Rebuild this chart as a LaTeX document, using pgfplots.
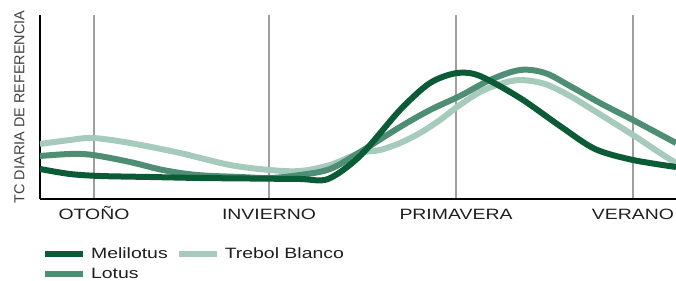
\documentclass[border=0pt]{standalone}
\usepackage{pgfplots}
\pgfplotsset{compat=1.18}
\usepackage{fontspec}
\setmainfont{Liberation Sans}[FakeStretch=1.3]
\newfontfamily\plainsans{Liberation Sans}
\definecolor{cdark}{HTML}{0B5B37}
\definecolor{cmed}{HTML}{4E8E74}
\definecolor{clight}{HTML}{A6CABB}
\definecolor{ctext}{HTML}{1E1E1E}
\begin{document}
\begin{tikzpicture}
\begin{axis}[
  at={(0,0)}, anchor=south west,
  scale only axis, width=636bp, height=184bp,
  xmin=40, xmax=676, ymin=0, ymax=184,
  axis x line*=bottom, axis y line*=left,
  axis line style={black, line width=2bp},
  xtick={94,269,456,633},
  xticklabels={OTOÑO,INVIERNO,PRIMAVERA,VERANO},
  ytick=\empty,
  major tick length=0pt,
  xmajorgrids,
  grid style={color=gray!75, line width=1.3bp},
  xticklabel style={font=\fontsize{15}{18}\selectfont, text=ctext, inner sep=0pt, text height=11bp, yshift=-9bp},
  ylabel={TC DIARIA DE REFERENCIA},
  every axis y label/.style={at={(axis description cs:-0.0322,0.5)}, rotate=90, anchor=center, font=\plainsans\fontsize{14.5}{17}\selectfont, text=black!75},
  legend columns=2,
  legend cell align=left,
  legend style={draw=none, fill=none, at={(axis description cs:0.003,-0.26)}, anchor=north west,
    inner sep=0pt, font=\fontsize{15}{18}\selectfont, text=ctext,
    nodes={inner sep=0pt, text height=11bp, text depth=3bp},
    row sep=6bp,
    /tikz/every odd column/.append style={column sep=5bp},
    /tikz/every even column/.append style={column sep=8bp}},
  legend image code/.code={\draw[#1] (0bp,0bp) -- (38bp,0bp);},
]
\addlegendimage{cdark, line width=6bp}
\addlegendentry{Melilotus}
\addlegendimage{clight, line width=6bp}
\addlegendentry{Trebol Blanco}
\addlegendimage{cmed, line width=6bp}
\addlegendentry{Lotus}

% Trebol Blanco
\addplot[clight, line width=6bp, smooth, tension=0.55, forget plot] coordinates {
(40,55) (70,59) (93,61) (130,56) (180,46) (230,34) (270,29) (300,28) (330,34) (360,46) (380,49) (400,56) (420,66) (440,79) (457,92) (480,107) (500,115) (520,119) (545,115) (570,103) (593,89) (633,64) (660,46) (676,36)};
% Lotus
\addplot[cmed, line width=6bp, smooth, tension=0.55, forget plot] coordinates {
(40,43) (70,45) (93,44) (130,37) (163,29) (197,24) (240,22) (270,21) (300,24) (330,30) (360,47) (400,72) (430,89) (460,103) (490,119) (520,129) (545,126) (570,113) (600,96) (633,79) (676,56)};
% Melilotus
\addplot[cdark, line width=6bp, smooth, tension=0.5, forget plot] coordinates {
(40,30) (70,25) (100,23) (150,22) (200,21) (250,20.5) (300,20) (328,20) (360,43) (400,89) (430,116) (457,126) (480,123) (520,101) (560,73) (595,50) (633,39) (676,32)};
\end{axis}
\pgfresetboundingbox
\useasboundingbox (-40bp,-82bp) rectangle (636bp,199bp);
\end{tikzpicture}
\end{document}
